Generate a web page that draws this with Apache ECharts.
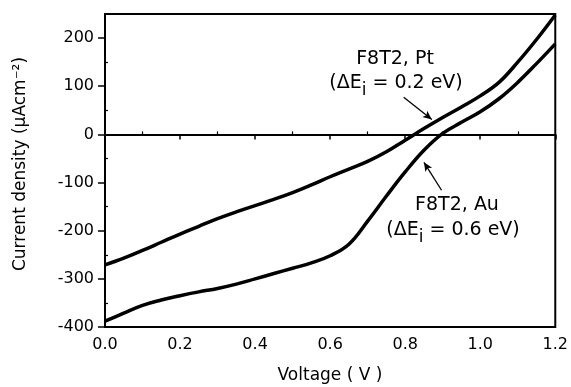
<!DOCTYPE html>
<html><head><meta charset="utf-8">
<script src="https://cdn.jsdelivr.net/npm/echarts/dist/echarts.min.js"></script>
<style>html,body{margin:0;padding:0;background:#fff}#c{width:571px;height:387px}</style>
</head><body><div id="c"></div>
<script>
const voltage = [0.00,0.05,0.10,0.15,0.20,0.25,0.30,0.35,0.40,0.45,0.50,0.55,0.60,0.65,0.70,0.75,0.80,0.85,0.90,0.95,1.00,1.05,1.10,1.15,1.20];
const ptCurrent = [-271,-257,-241,-224,-207,-191,-175,-161,-148,-135,-121,-105,-88,-72,-56,-36,-12,12,35,57,80,108,150,197,248];
const auCurrent = [-388,-371,-355,-344,-335,-327,-320,-311,-300,-289,-278,-267,-252,-228,-180,-128,-78,-33,2,25,47,74,108,147,188];
const xTickStep = 0.2;
const yTickValues = [-400,-300,-200,-100,0,100,200];
const ptLabel = ['F8T2, Pt', '(ΔE{s|i} = 0.2 eV)'];
const auLabel = ['F8T2, Au', '(ΔE{s|i} = 0.6 eV)'];
const yTitle = 'Current density (μAcm⁻²)';
const xTitle = 'Voltage ( V )';

const FONT = 'DejaVu Sans';
const chart = echarts.init(document.getElementById('c'));
const pair = (xs, ys) => xs.map((x, i) => [x, ys[i]]);

function txt(text, x, y, size, rot) {
  return {
    type: 'text', x: x, y: y, rotation: rot || 0,
    style: {
      text: text, fill: '#000', font: size + 'px "' + FONT + '"',
      align: 'center', verticalAlign: 'middle',
      rich: { s: { fontSize: size - 2, fontFamily: FONT, fill: '#000', padding: [15, 0, 0, 0] } }
    }
  };
}

chart.setOption({
  animation: false,
  backgroundColor: '#fff',
  grid: { left: 105, right: 14, top: 14, bottom: 60, show: true, borderColor: '#000', borderWidth: 2 },
  xAxis: {
    type: 'value', min: 0, max: 1.2, interval: xTickStep,
    axisLine: { lineStyle: { color: '#000', width: 2 } },
    axisTick: { length: 5, lineStyle: { color: '#000', width: 1.5 } },
    minorTick: { show: true, splitNumber: 2, length: -3, lineStyle: { color: '#000', width: 1.2 } },
    splitLine: { show: false },
    axisLabel: { color: '#000', fontFamily: FONT, fontSize: 16, margin: 10,
      formatter: v => v.toFixed(1) }
  },
  yAxis: {
    type: 'value', min: -400, max: 250, interval: 100,
    axisLine: { lineStyle: { color: '#000', width: 2 } },
    axisTick: { length: 7, customValues: yTickValues, lineStyle: { color: '#000', width: 1.5 } },
    minorTick: { show: true, splitNumber: 2, length: -3, lineStyle: { color: '#000', width: 1.2 } },
    splitLine: { show: false },
    axisLabel: { color: '#000', fontFamily: FONT, fontSize: 16, margin: 11, customValues: yTickValues,
      formatter: v => String(v) }
  },
  graphic: [
    txt(yTitle, 21, 164, 17, Math.PI / 2),
    txt(xTitle, 330, 376, 17),
    txt(ptLabel[0], 395, 59, 19),
    txt(ptLabel[1], 396, 83, 19),
    txt(auLabel[0], 457, 205, 19),
    txt(auLabel[1], 453, 230, 19)
  ],
  series: [
    {
      type: 'line', data: pair(voltage, ptCurrent), showSymbol: false, smooth: 0.4,
      lineStyle: { color: '#000', width: 3.5 },
      markLine: {
        silent: true, symbol: 'none', label: { show: false },
        lineStyle: { color: '#000', width: 1.5, type: 'solid' },
        data: [{ yAxis: 0 }]
      }
    },
    {
      type: 'line', data: pair(voltage, auCurrent), showSymbol: false, smooth: 0.4,
      lineStyle: { color: '#000', width: 3.5 },
      markLine: {
        silent: true, symbol: ['none', 'arrow'], symbolSize: [6, 9], label: { show: false },
        lineStyle: { color: '#000', width: 1.3, type: 'solid' },
        data: [
          [{ coord: [0.796, 77] }, { coord: [0.871, 31] }],
          [{ coord: [0.897, -116] }, { coord: [0.850, -58] }]
        ]
      }
    }
  ]
});
</script></body></html>
